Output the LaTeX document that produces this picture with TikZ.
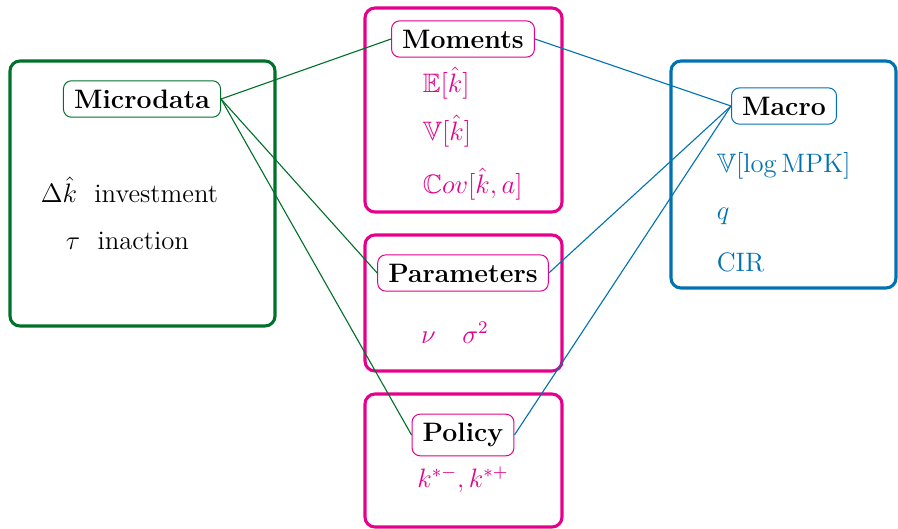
\documentclass[tikz,border=0pt]{standalone}
\usepackage{amsmath,amssymb}
\definecolor{cgreen}{HTML}{00702A}
\definecolor{cmag}{HTML}{E6008C}
\definecolor{cblue}{HTML}{0072B2}
\tikzset{
  outerbox/.style={line width=1.4pt, rounded corners=4.5pt},
  lbl/.style={draw, line width=0.45pt, rounded corners=3.6pt, fill=white, text=black, font=\large\bfseries, inner xsep=4.8pt, inner ysep=4pt},
  itm/.style={font=\large},
  conn/.style={line width=0.5pt}
}
\begin{document}
\begin{tikzpicture}[x=0.45pt,y=-0.45pt]
\useasboundingbox (0,0) rectangle (898,529);
% outer boxes
\draw[outerbox, cgreen] (10,61) rectangle (275,326);
\draw[outerbox, cmag] (365,8) rectangle (562,212);
\draw[outerbox, cmag] (365,235) rectangle (562,371);
\draw[outerbox, cmag] (365,394) rectangle (562,527);
\draw[outerbox, cblue] (671,61) rectangle (896,288);
% labels
\node[lbl, draw=cgreen] (micro) at (142,99) {Microdata};
\node[lbl, draw=cmag] (mom) at (463,39) {Moments};
\node[lbl, draw=cmag] (par) at (463,273) {Parameters};
\node[lbl, draw=cmag] (pol) at (463,435) {Policy};
\node[lbl, draw=cblue] (mac) at (784,106) {Macro};
% items
\node[itm, anchor=west] (inv) at (33,190) {$\Delta\hat{k}$~~investment};
\node[itm, anchor=west] (ina) at (58,241) {$\tau$~~inaction};
\node[itm, text=cmag, anchor=west] (e1) at (415,83) {$\mathbb{E}[\hat{k}]$};
\node[itm, text=cmag, anchor=west] (v1) at (415,131) {$\mathbb{V}[\hat{k}]$};
\node[itm, text=cmag, anchor=west] (c1) at (415,184) {$\mathbb{C}ov[\hat{k},a]$};
\node[itm, text=cmag] (ns) at (455,333) {$\nu\quad\sigma^2$};
\node[itm, text=cmag] (kk) at (463,480) {$k^{*-},k^{*+}$};
\node[itm, text=cblue, anchor=west] (m1) at (709,166) {$\mathbb{V}[\log\mathrm{MPK}]$};
\node[itm, text=cblue, anchor=west] (m2) at (709,216) {$q$};
\node[itm, text=cblue, anchor=west] (m3) at (709,262) {CIR};
% connectors
\draw[conn, cgreen] (micro.east) -- (mom.west);
\draw[conn, cgreen] (micro.east) -- (par.west);
\draw[conn, cgreen] (micro.east) -- (pol.west);
\draw[conn, cblue] (mac.west) -- (mom.east);
\draw[conn, cblue] (mac.west) -- (par.east);
\draw[conn, cblue] (mac.west) -- (pol.east);
\end{tikzpicture}
\end{document}
